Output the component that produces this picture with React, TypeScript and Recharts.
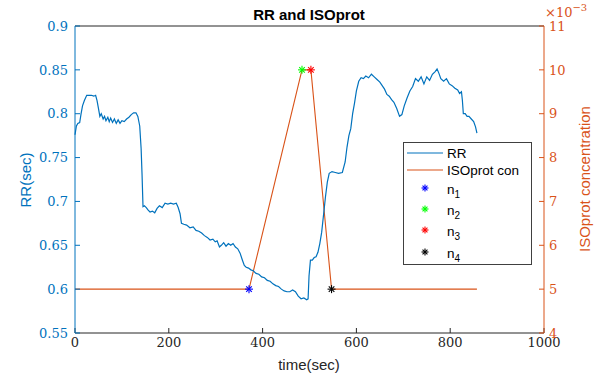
import React from "react";
import {
  ComposedChart,
  Line,
  Scatter,
  XAxis,
  YAxis,
  Legend,
} from "recharts";

// RR interval trace, [time (s), RR (s)]
const rrSamples: [number, number][] = [
  [0, 0.776], [3, 0.786], [6, 0.789], [10, 0.79], [13, 0.8], [16, 0.809], [20, 0.815],
  [25, 0.821], [30, 0.821], [35, 0.821], [40, 0.82], [44, 0.821], [47, 0.815], [50, 0.806],
  [53, 0.797], [56, 0.8], [60, 0.794], [63, 0.797], [66, 0.792], [70, 0.796], [73, 0.791],
  [76, 0.795], [80, 0.79], [84, 0.794], [88, 0.789], [92, 0.793], [96, 0.789], [100, 0.792],
  [105, 0.791], [110, 0.794], [115, 0.796], [120, 0.799], [125, 0.801], [130, 0.801],
  [134, 0.797], [138, 0.786], [141, 0.76], [143, 0.73], [145, 0.694], [148, 0.695],
  [152, 0.693], [156, 0.69], [160, 0.688], [165, 0.689], [170, 0.687], [175, 0.692],
  [180, 0.695], [186, 0.693], [192, 0.698], [198, 0.697], [204, 0.698], [210, 0.697],
  [216, 0.698], [220, 0.693], [224, 0.686], [227, 0.675], [232, 0.674], [238, 0.673],
  [245, 0.67], [252, 0.671], [258, 0.667], [264, 0.666], [270, 0.664], [276, 0.661],
  [282, 0.659], [288, 0.656], [294, 0.657], [299, 0.654], [303, 0.655], [308, 0.648],
  [312, 0.65], [317, 0.653], [322, 0.649], [327, 0.652], [332, 0.65], [337, 0.652],
  [342, 0.648], [347, 0.646], [352, 0.641], [357, 0.633], [361, 0.627], [365, 0.625],
  [370, 0.624], [375, 0.622], [380, 0.621], [386, 0.618], [392, 0.617], [398, 0.614],
  [404, 0.613], [410, 0.61], [416, 0.609], [422, 0.606], [428, 0.604], [434, 0.603],
  [440, 0.6], [446, 0.598], [452, 0.597], [458, 0.597], [464, 0.599], [470, 0.597],
  [476, 0.592], [482, 0.589], [488, 0.59], [494, 0.588], [497, 0.589], [499, 0.615],
  [502, 0.633], [506, 0.633], [510, 0.636], [514, 0.637], [518, 0.642], [522, 0.652],
  [526, 0.665], [530, 0.685], [534, 0.705], [538, 0.722], [542, 0.732], [548, 0.734],
  [555, 0.733], [562, 0.732], [570, 0.733], [576, 0.745], [580, 0.762], [584, 0.775],
  [588, 0.783], [592, 0.8], [596, 0.812], [600, 0.826], [605, 0.837], [610, 0.841],
  [615, 0.84], [620, 0.843], [626, 0.841], [632, 0.845], [638, 0.842], [644, 0.839],
  [650, 0.836], [655, 0.832], [660, 0.828], [665, 0.822], [670, 0.82], [675, 0.816],
  [680, 0.813], [686, 0.806], [692, 0.797], [697, 0.799], [702, 0.809], [708, 0.818],
  [714, 0.826], [720, 0.831], [726, 0.84], [732, 0.837], [738, 0.842], [744, 0.834],
  [750, 0.842], [756, 0.838], [762, 0.845], [768, 0.848], [772, 0.851], [776, 0.846],
  [780, 0.84], [786, 0.837], [792, 0.84], [798, 0.834], [804, 0.832], [810, 0.829],
  [816, 0.827], [820, 0.823], [824, 0.825], [826, 0.815], [828, 0.8], [832, 0.8],
  [836, 0.797], [840, 0.797], [845, 0.794], [850, 0.791], [854, 0.785], [857, 0.778],
];

// ISOprot concentration profile
const isoTime = [0, 371, 484, 503, 547, 857];
const isoConc = [0.005, 0.005, 0.01, 0.01, 0.005, 0.005];

// marked points n1..n4
const markerTime = [371, 484, 503, 547];
const markerConc = [0.005, 0.01, 0.01, 0.005];
const markerColors = ["#0000ff", "#00ff00", "#ff0000", "#000000"];

const xTicks = [0, 200, 400, 600, 800, 1000];
const rrTicks = [0.55, 0.6, 0.65, 0.7, 0.75, 0.8, 0.85, 0.9];
const isoTicks = [0.004, 0.005, 0.006, 0.007, 0.008, 0.009, 0.01, 0.011];

const BLUE = "#0072BD";
const ORANGE = "#D95319";
const SERIF = "DejaVu Serif, serif";
const SANS = "Liberation Sans, Arial, sans-serif";

const rrData = rrSamples.map(([t, rr]) => ({ t, rr }));
const isoData = isoTime.map((t, i) => ({ t, iso: isoConc[i] }));
const markerData = markerTime.map((t, i) => [{ t, iso: markerConc[i] }]);

// serif tick label, like the LaTeX tick labels of the original figure
const serifTick =
  (fill: string, anchor: string, dy: string, fmt: (v: number) => string) =>
  (props: any) =>
    (
      <text
        x={props.x}
        y={props.y}
        dy={dy}
        textAnchor={anchor}
        fill={fill}
        fontFamily={SERIF}
        fontSize={13}
      >
        {fmt(props.payload.value)}
      </text>
    );

const Asterisk = ({ cx, cy, color, r = 4 }: { cx: number; cy: number; color: string; r?: number }) => {
  const d = r * 0.7;
  return (
    <g stroke={color} strokeWidth={1.1}>
      <line x1={cx - r} y1={cy} x2={cx + r} y2={cy} />
      <line x1={cx} y1={cy - r} x2={cx} y2={cy + r} />
      <line x1={cx - d} y1={cy - d} x2={cx + d} y2={cy + d} />
      <line x1={cx - d} y1={cy + d} x2={cx + d} y2={cy - d} />
    </g>
  );
};

const LegendBox = () => {
  const rows = [46, 67, 88, 110];
  return (
    <svg width={130} height={124} style={{ display: "block" }}>
      <rect x={0.5} y={0.5} width={128} height={122} fill="#fff" stroke="#404040" />
      <line x1={4} y1={11} x2={40} y2={11} stroke={BLUE} strokeWidth={1.2} />
      <text x={44} y={15.5} fontFamily={SANS} fontSize={13.5} fill="#000">RR</text>
      <line x1={4} y1={28} x2={40} y2={28} stroke={ORANGE} strokeWidth={1.2} />
      <text x={44} y={33} fontFamily={SANS} fontSize={13.5} fill="#000">ISOprot con</text>
      {rows.map((y, i) => (
        <g key={i}>
          <Asterisk cx={22} cy={y} color={markerColors[i]} r={3.5} />
          <text x={44} y={y + 6} fontFamily={SANS} fontSize={13.5} fill="#000">
            n
            <tspan fontSize={10} dy={4}>{i + 1}</tspan>
          </text>
        </g>
      ))}
    </svg>
  );
};

export default function App() {
  return (
    <div style={{ position: "absolute", left: 0, top: 0, width: 605, height: 377, background: "#fff" }}>
      <ComposedChart width={605} height={377} margin={{ top: 25, right: 0, bottom: 0, left: 0 }}>
        <XAxis
          xAxisId="bottom"
          dataKey="t"
          type="number"
          domain={[0, 1000]}
          ticks={xTicks}
          height={44}
          stroke="#262626"
          tickSize={-5}
          tickMargin={10}
          tick={serifTick("#262626", "middle", "0.72em", (v) => String(v))}
        />
        <XAxis
          xAxisId="top"
          orientation="top"
          dataKey="t"
          type="number"
          domain={[0, 1000]}
          ticks={xTicks}
          height={1}
          stroke="#262626"
          tickSize={-5}
          tickFormatter={() => ""}
        />
        <YAxis
          yAxisId="left"
          type="number"
          domain={[0.55, 0.9]}
          ticks={rrTicks}
          width={75}
          stroke={BLUE}
          tickSize={-5}
          tickMargin={12}
          tick={serifTick(BLUE, "end", "0.36em", (v) => String(Number(v.toFixed(2))))}
        />
        <YAxis
          yAxisId="right"
          orientation="right"
          type="number"
          domain={[0.004, 0.011]}
          ticks={isoTicks}
          width={61}
          stroke={ORANGE}
          tickSize={-5}
          tickMargin={10}
          tick={serifTick(ORANGE, "start", "0.36em", (v) => String(Math.round(v * 1000)))}
        />
        <Legend
          layout="horizontal"
          verticalAlign="middle"
          align="center"
          wrapperStyle={{ left: 403, top: 142, width: 130, height: 124 }}
          content={() => <LegendBox />}
        />
        <Line
          xAxisId="bottom"
          yAxisId="right"
          data={isoData}
          dataKey="iso"
          name="ISOprot con"
          stroke={ORANGE}
          strokeWidth={1.1}
          dot={false}
          isAnimationActive={false}
        />
        <Line
          xAxisId="bottom"
          yAxisId="left"
          data={rrData}
          dataKey="rr"
          name="RR"
          stroke={BLUE}
          strokeWidth={1.2}
          dot={false}
          isAnimationActive={false}
        />
        {markerData.map((d, i) => (
          <Scatter
            key={i}
            xAxisId="bottom"
            yAxisId="right"
            data={d}
            dataKey="iso"
            name={`n${i + 1}`}
            isAnimationActive={false}
            shape={(p: any) => <Asterisk cx={p.cx} cy={p.cy} color={markerColors[i]} />}
          />
        ))}
      </ComposedChart>
      <svg
        width={605}
        height={377}
        style={{ position: "absolute", left: 0, top: 0, pointerEvents: "none" }}
      >
        <text x={309} y={20} textAnchor="middle" fontFamily={SANS} fontSize={15} fontWeight="bold" fill="#000">
          RR and ISOprot
        </text>
        <text x={309} y={370} textAnchor="middle" fontFamily={SANS} fontSize={15} fill="#262626">
          time(sec)
        </text>
        <text x={31} y={180} textAnchor="middle" fontFamily={SANS} fontSize={15} fill={BLUE} transform="rotate(-90 31 180)">
          RR(sec)
        </text>
        <text x={590} y={179} textAnchor="middle" fontFamily={SANS} fontSize={15} fill={ORANGE} transform="rotate(-90 590 179)">
          ISOprot concentration
        </text>
        <text x={545} y={17} fontFamily={SERIF} fontSize={13} fill={ORANGE}>
          ×10
          <tspan fontSize={10} dy={-6}>−3</tspan>
        </text>
      </svg>
    </div>
  );
}
